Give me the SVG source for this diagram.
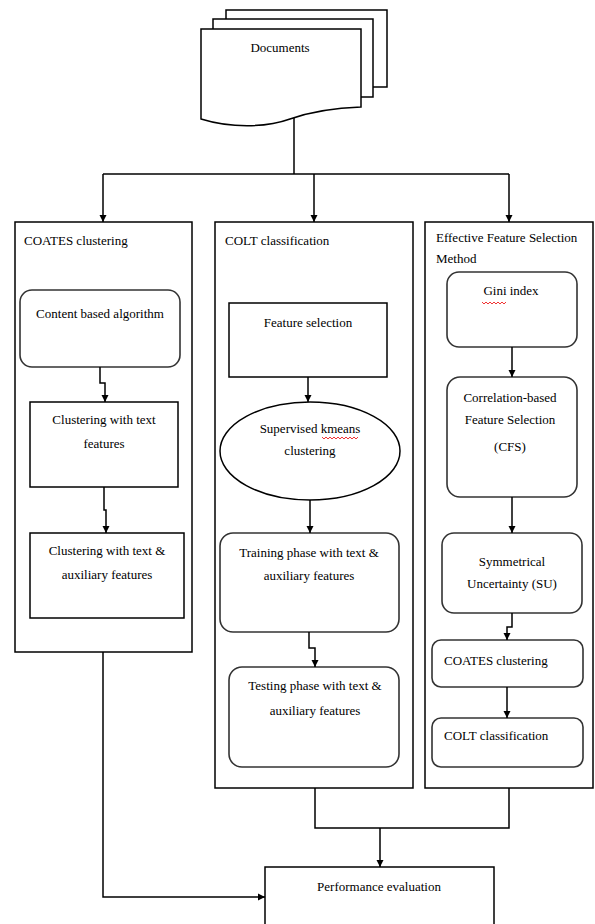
<svg xmlns="http://www.w3.org/2000/svg" width="595" height="924" viewBox="0 0 595 924">
<style>
text{font-family:"Liberation Serif","Times New Roman",serif;font-size:13px;fill:#000}
.c{text-anchor:middle}
.box{fill:#fff;stroke:#000;stroke-width:1.5}
.rbox{fill:#fff;stroke:#333;stroke-width:1.6}
.con{fill:none;stroke:#000;stroke-width:1.5}
.sq{fill:none;stroke:#e00;stroke-width:0.8}
</style>
<defs>
<marker id="ah" viewBox="0 0 10 10" refX="10" refY="5" markerWidth="7" markerHeight="8" markerUnits="userSpaceOnUse" orient="auto">
<path d="M0,0 L10,5 L0,10 Z" fill="#000"/>
</marker>
</defs>
<rect width="595" height="924" fill="#fff"/>

<g id="documents">
<path class="box" d="M226,19 V10 H387 V87 H373"/>
<path class="box" d="M213,29 V19 H373 V97 H361"/>
<path class="box" d="M201,29 H361 V107 C330,108 310,112 290,119 C265,128 230,128 201,119 Z"/>
<text class="c" x="280" y="52">Documents</text>
</g>

<g id="coates-group">
<rect class="box" x="15" y="222" width="177" height="430"/>
<text x="24" y="245">COATES clustering</text>
</g>
<g id="content-based">
<rect class="rbox" x="20" y="290" width="160" height="77" rx="12"/>
<text class="c" x="100" y="318">Content based algorithm</text>
</g>
<g id="clustering-text">
<rect class="box" x="30" y="402" width="148" height="85"/>
<text class="c" x="104" y="424">Clustering with text</text>
<text class="c" x="104" y="448">features</text>
</g>
<g id="clustering-aux">
<rect class="box" x="30" y="533" width="154" height="85"/>
<text class="c" x="107" y="555">Clustering with text &amp;</text>
<text class="c" x="107" y="579">auxiliary features</text>
</g>

<g id="colt-group">
<rect class="box" x="215" y="222" width="198" height="566"/>
<text x="225" y="245">COLT classification</text>
</g>
<g id="feature-selection">
<rect class="box" x="229" y="303" width="158" height="74"/>
<text class="c" x="308" y="327">Feature selection</text>
</g>
<g id="supervised-kmeans">
<ellipse class="box" cx="310" cy="451" rx="90" ry="49"/>
<text class="c" x="310" y="433">Supervised kmeans</text>
<text class="c" x="310" y="455">clustering</text>
<path class="sq" d="M322,437 l2,2 l2,-2 l2,2 l2,-2 l2,2 l2,-2 l2,2 l2,-2 l2,2 l2,-2 l2,2 l2,-2 l2,2 l2,-2 l2,2 l2,-2 l2,2 l2,-2"/>
</g>
<g id="training">
<rect class="rbox" x="220" y="533" width="179" height="99" rx="13"/>
<text class="c" x="309" y="557">Training phase with text &amp;</text>
<text class="c" x="309" y="580">auxiliary features</text>
</g>
<g id="testing">
<rect class="rbox" x="229" y="667" width="170" height="100" rx="13"/>
<text class="c" x="315" y="690">Testing phase with text &amp;</text>
<text class="c" x="315" y="715">auxiliary features</text>
</g>

<g id="efs-group">
<rect class="box" x="425" y="222" width="168" height="566"/>
<text x="436" y="242">Effective Feature Selection</text>
<text x="436" y="263">Method</text>
</g>
<g id="gini">
<rect class="rbox" x="447" y="272" width="130" height="75" rx="12"/>
<text class="c" x="511" y="295">Gini index</text>
<path class="sq" d="M482,302 l2,2 l2,-2 l2,2 l2,-2 l2,2 l2,-2 l2,2 l2,-2 l2,2 l2,-2 l2,2 l2,-2"/>
</g>
<g id="cfs">
<rect class="rbox" x="447" y="377" width="130" height="120" rx="13"/>
<text class="c" x="510" y="402">Correlation-based</text>
<text class="c" x="510" y="424">Feature Selection</text>
<text class="c" x="510" y="451">(CFS)</text>
</g>
<g id="su">
<rect class="rbox" x="442" y="533" width="140" height="80" rx="12"/>
<text class="c" x="512" y="566">Symmetrical</text>
<text class="c" x="512" y="588">Uncertainty (SU)</text>
</g>
<g id="coates-step">
<rect class="rbox" x="432" y="640" width="151" height="47" rx="9"/>
<text x="444" y="665">COATES clustering</text>
</g>
<g id="colt-step">
<rect class="rbox" x="432" y="718" width="151" height="49" rx="9"/>
<text x="444" y="740">COLT classification</text>
</g>

<g id="performance">
<rect class="box" x="265" y="867" width="229" height="70"/>
<text class="c" x="379" y="891">Performance evaluation</text>
</g>

<g id="connectors">
<path class="con" d="M294,118 V174"/>
<path class="con" d="M103,174 H509"/>
<path class="con" d="M103,174 V222" marker-end="url(#ah)"/>
<path class="con" d="M314,174 V222" marker-end="url(#ah)"/>
<path class="con" d="M509,174 V222" marker-end="url(#ah)"/>
<path class="con" d="M100,367 V383 H105 V402" marker-end="url(#ah)"/>
<path class="con" d="M104,487 V510 H106 V533" marker-end="url(#ah)"/>
<path class="con" d="M103,652 V897 H265" marker-end="url(#ah)"/>
<path class="con" d="M308,377 V402" marker-end="url(#ah)"/>
<path class="con" d="M310,500 V533" marker-end="url(#ah)"/>
<path class="con" d="M309,632 V648 H315 V667" marker-end="url(#ah)"/>
<path class="con" d="M512,347 V377" marker-end="url(#ah)"/>
<path class="con" d="M512,497 V533" marker-end="url(#ah)"/>
<path class="con" d="M512,613 V627 H507 V640" marker-end="url(#ah)"/>
<path class="con" d="M507,687 V718" marker-end="url(#ah)"/>
<path class="con" d="M315,788 V828 H509 V788"/>
<path class="con" d="M380,828 V867" marker-end="url(#ah)"/>
</g>
</svg>
